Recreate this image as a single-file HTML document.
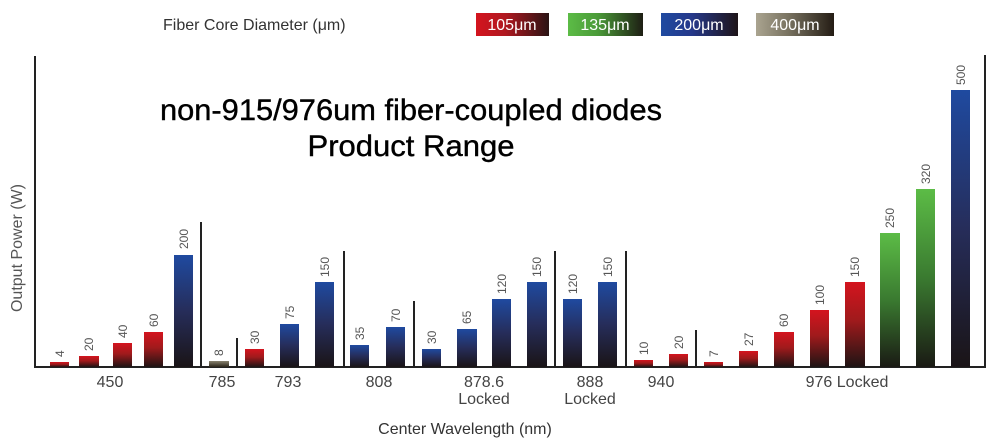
<!DOCTYPE html>
<html><head><meta charset="utf-8"><style>
html,body{margin:0;padding:0;background:#fff;}
svg{display:block;}
</style></head><body>
<svg width="991" height="444" viewBox="0 0 991 444" xmlns="http://www.w3.org/2000/svg">
<defs>
<linearGradient id="r" x1="0" y1="0" x2="0" y2="1"><stop offset="0" stop-color="#d4141e"/><stop offset="0.45" stop-color="#a01a1c"/><stop offset="1" stop-color="#1e1414"/></linearGradient>
<linearGradient id="g" x1="0" y1="0" x2="0" y2="1"><stop offset="0" stop-color="#5cbc46"/><stop offset="0.5" stop-color="#3a7a30"/><stop offset="1" stop-color="#1a1a14"/></linearGradient>
<linearGradient id="b" x1="0" y1="0" x2="0" y2="1"><stop offset="0" stop-color="#1f4aa0"/><stop offset="0.5" stop-color="#262d5a"/><stop offset="1" stop-color="#1a1416"/></linearGradient>
<linearGradient id="w" x1="0" y1="0" x2="0" y2="1"><stop offset="0" stop-color="#8a8470"/><stop offset="1" stop-color="#2a2418"/></linearGradient>
<linearGradient id="lr" x1="0" y1="0" x2="1" y2="0"><stop offset="0" stop-color="#d4141e"/><stop offset="0.4" stop-color="#b01820"/><stop offset="1" stop-color="#2a1414"/></linearGradient>
<linearGradient id="lg" x1="0" y1="0" x2="1" y2="0"><stop offset="0" stop-color="#5cbc46"/><stop offset="0.4" stop-color="#4a9a38"/><stop offset="1" stop-color="#1e1e14"/></linearGradient>
<linearGradient id="lb" x1="0" y1="0" x2="1" y2="0"><stop offset="0" stop-color="#1f4aa0"/><stop offset="0.4" stop-color="#25388a"/><stop offset="1" stop-color="#1e1418"/></linearGradient>
<linearGradient id="lw" x1="0" y1="0" x2="1" y2="0"><stop offset="0" stop-color="#aaa490"/><stop offset="0.4" stop-color="#7a7462"/><stop offset="1" stop-color="#241c14"/></linearGradient>
</defs>
<g font-family="'Liberation Sans', sans-serif">
<text x="163" y="30" font-size="16" fill="#333">Fiber Core Diameter  (μm)</text>
<rect x="476" y="13" width="73" height="23" fill="url(#lr)"/><text x="512" y="30" font-size="16" fill="#fff" text-anchor="middle">105μm</text>
<rect x="568" y="13" width="75" height="23" fill="url(#lg)"/><text x="605" y="30" font-size="16" fill="#fff" text-anchor="middle">135μm</text>
<rect x="661" y="13" width="77" height="23" fill="url(#lb)"/><text x="699" y="30" font-size="16" fill="#fff" text-anchor="middle">200μm</text>
<rect x="756" y="13" width="78" height="23" fill="url(#lw)"/><text x="795" y="30" font-size="16" fill="#fff" text-anchor="middle">400μm</text>
<text x="411" y="120" font-size="30" fill="#000" stroke="#000" stroke-width="0.4" text-anchor="middle" textLength="502" lengthAdjust="spacingAndGlyphs">non-915/976um fiber-coupled diodes</text>
<text x="411" y="156" font-size="30" fill="#000" stroke="#000" stroke-width="0.4" text-anchor="middle" textLength="207" lengthAdjust="spacingAndGlyphs">Product Range</text>
</g>
<g stroke="#222" stroke-width="2" fill="none">
<path d="M35 56 V367 H985 V55"/>
<path d="M201 222 V367 M237 338 V367 M344 251 V367 M414 301 V367 M555 251 V367 M626 251 V367 M696 330 V367"/>
</g>
<g>
<rect x="50" y="362" width="19" height="5" fill="url(#r)"/>
<rect x="79" y="356" width="20" height="11" fill="url(#r)"/>
<rect x="113" y="343" width="19" height="24" fill="url(#r)"/>
<rect x="144" y="332" width="19" height="35" fill="url(#r)"/>
<rect x="174" y="255" width="19" height="112" fill="url(#b)"/>
<rect x="209" y="361" width="20" height="6" fill="url(#w)"/>
<rect x="245" y="349" width="19" height="18" fill="url(#r)"/>
<rect x="280" y="324" width="19" height="43" fill="url(#b)"/>
<rect x="315" y="282" width="19" height="85" fill="url(#b)"/>
<rect x="350" y="345" width="19" height="22" fill="url(#b)"/>
<rect x="386" y="327" width="19" height="40" fill="url(#b)"/>
<rect x="422" y="349" width="19" height="18" fill="url(#b)"/>
<rect x="457" y="329" width="20" height="38" fill="url(#b)"/>
<rect x="492" y="299" width="19" height="68" fill="url(#b)"/>
<rect x="527" y="282" width="20" height="85" fill="url(#b)"/>
<rect x="563" y="299" width="19" height="68" fill="url(#b)"/>
<rect x="598" y="282" width="19" height="85" fill="url(#b)"/>
<rect x="634" y="360" width="19" height="7" fill="url(#r)"/>
<rect x="669" y="354" width="19" height="13" fill="url(#r)"/>
<rect x="704" y="362" width="19" height="5" fill="url(#r)"/>
<rect x="739" y="351" width="19" height="16" fill="url(#r)"/>
<rect x="774" y="332" width="20" height="35" fill="url(#r)"/>
<rect x="810" y="310" width="19" height="57" fill="url(#r)"/>
<rect x="845" y="282" width="20" height="85" fill="url(#r)"/>
<rect x="880" y="233" width="20" height="134" fill="url(#g)"/>
<rect x="916" y="189" width="19" height="178" fill="url(#g)"/>
<rect x="951" y="90" width="19" height="277" fill="url(#b)"/>
</g>
<g font-family="'Liberation Sans', sans-serif" font-size="12" fill="#555">
<text transform="translate(64,357) rotate(-90)">4</text>
<text transform="translate(93,351) rotate(-90)">20</text>
<text transform="translate(127,338) rotate(-90)">40</text>
<text transform="translate(158,327) rotate(-90)">60</text>
<text transform="translate(188,249) rotate(-90)">200</text>
<text transform="translate(223,356) rotate(-90)">8</text>
<text transform="translate(259,344) rotate(-90)">30</text>
<text transform="translate(294,319) rotate(-90)">75</text>
<text transform="translate(329,277) rotate(-90)">150</text>
<text transform="translate(364,340) rotate(-90)">35</text>
<text transform="translate(400,322) rotate(-90)">70</text>
<text transform="translate(436,344) rotate(-90)">30</text>
<text transform="translate(471,324) rotate(-90)">65</text>
<text transform="translate(506,294) rotate(-90)">120</text>
<text transform="translate(541,277) rotate(-90)">150</text>
<text transform="translate(577,294) rotate(-90)">120</text>
<text transform="translate(612,277) rotate(-90)">150</text>
<text transform="translate(648,355) rotate(-90)">10</text>
<text transform="translate(683,349) rotate(-90)">20</text>
<text transform="translate(718,357) rotate(-90)">7</text>
<text transform="translate(753,346) rotate(-90)">27</text>
<text transform="translate(788,327) rotate(-90)">60</text>
<text transform="translate(824,305) rotate(-90)">100</text>
<text transform="translate(859,277) rotate(-90)">150</text>
<text transform="translate(894,228) rotate(-90)">250</text>
<text transform="translate(930,184) rotate(-90)">320</text>
<text transform="translate(965,85) rotate(-90)">500</text>
</g>
<g font-family="'Liberation Sans', sans-serif" font-size="16" fill="#444" text-anchor="middle">
<text x="110" y="387">450</text>
<text x="222" y="387">785</text>
<text x="288" y="387">793</text>
<text x="379" y="387">808</text>
<text x="484" y="387">878.6</text><text x="484" y="404">Locked</text>
<text x="590" y="387">888</text><text x="590" y="404">Locked</text>
<text x="661" y="387">940</text>
<text x="847" y="387">976 Locked</text>
<text x="465" y="434" fill="#333">Center Wavelength  (nm)</text>
<text transform="translate(22,248) rotate(-90)" fill="#555">Output Power   (W)</text>
</g>
</svg>
</body></html>
